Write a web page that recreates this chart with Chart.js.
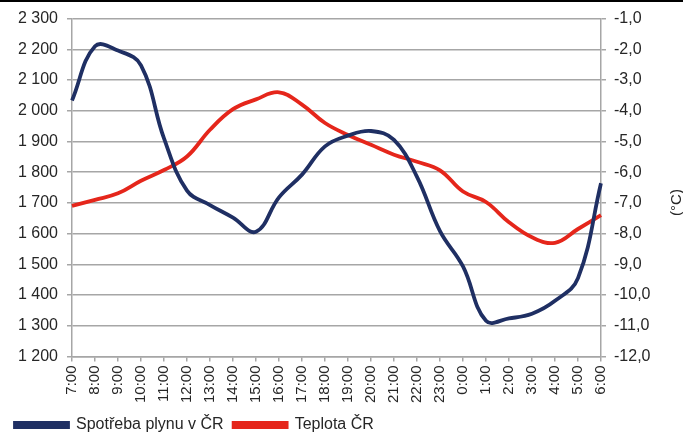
<!DOCTYPE html>
<html>
<head>
<meta charset="utf-8">
<script src="https://cdn.jsdelivr.net/npm/chart.js@4.4.1/dist/chart.umd.min.js"></script>
<style>
  html, body { margin: 0; padding: 0; background: #fff; }
  #wrap { position: relative; width: 683px; height: 438px; }
  #topbar { position: absolute; left: 0; top: 0; width: 683px; height: 2px; background: #000; z-index: 2; }
  canvas { display: block; }
</style>
</head>
<body>
<div id="wrap">
  <div id="topbar"></div>
  <canvas id="c" width="683" height="438"></canvas>
</div>
<script>
const categories = ['7:00','8:00','9:00','10:00','11:00','12:00','13:00','14:00','15:00','16:00','17:00','18:00','19:00','20:00','21:00','22:00','23:00','0:00','1:00','2:00','3:00','4:00','5:00','6:00'];
const gasConsumption = [2033, 2210, 2196, 2148, 1910, 1740, 1693, 1652, 1606, 1718, 1792, 1884, 1919, 1934, 1905, 1785, 1608, 1493, 1316, 1324, 1339, 1381, 1455, 1764];
const temperature = [-7.10, -6.90, -6.69, -6.28, -5.93, -5.49, -4.62, -3.95, -3.63, -3.40, -3.80, -4.40, -4.79, -5.11, -5.43, -5.66, -5.94, -6.63, -6.97, -7.63, -8.12, -8.30, -7.85, -7.40];
const seriesNames = ['Spotřeba plynu v ČR', 'Teplota ČR'];
const rightAxisTitle = '(°C)';

const FONT = "'Liberation Sans', Arial, sans-serif";
const TEXT = '#262626';
const GRID = '#a6a6a6';

const rightTitlePlugin = {
  id: 'rightTitle',
  afterDraw(chart) {
    const ctx = chart.ctx;
    ctx.save();
    ctx.fillStyle = TEXT;
    ctx.font = '15px ' + FONT;
    ctx.textAlign = 'center';
    ctx.textBaseline = 'middle';
    ctx.translate(677, (chart.chartArea.top + chart.chartArea.bottom) / 2 + 15);
    ctx.rotate(-Math.PI / 2);
    ctx.fillText(rightAxisTitle, 0, 0);
    ctx.restore();
  }
};

new Chart(document.getElementById('c'), {
  type: 'line',
  data: {
    labels: categories,
    datasets: [
      { label: seriesNames[0], data: gasConsumption, yAxisID: 'y', borderColor: '#1f2f63', backgroundColor: '#1f2f63', borderWidth: 3.8, pointRadius: 0, tension: 0.4 },
      { label: seriesNames[1], data: temperature, yAxisID: 'y1', borderColor: '#e5261b', backgroundColor: '#e5261b', borderWidth: 3.8, pointRadius: 0, tension: 0.4 }
    ]
  },
  options: {
    responsive: false,
    animation: false,
    layout: { padding: { left: 5, right: 27, top: 16, bottom: -5 } },
    plugins: {
      tooltip: { enabled: false },
      legend: {
        position: 'bottom',
        align: 'start',
        labels: {
          boxWidth: 53, boxHeight: 4, padding: 10,
          color: TEXT,
          font: { family: FONT, size: 16 }
        }
      }
    },
    scales: {
      x: {
        offset: false,
        grid: { display: true, drawOnChartArea: false, drawTicks: true, tickLength: 5, color: GRID, lineWidth: 1.5 },
        border: { color: GRID, width: 1.5 },
        ticks: { color: TEXT, font: { family: FONT, size: 15 }, minRotation: 90, maxRotation: 90, autoSkip: false, padding: 4 }
      },
      y: {
        position: 'left',
        min: 1200, max: 2300,
        afterFit: s => { s.width = 67; },
        grid: { color: GRID, lineWidth: 1.5, tickLength: 5 },
        border: { color: GRID, width: 1.5 },
        ticks: {
          stepSize: 100, color: TEXT, padding: 9,
          font: { family: FONT, size: 16 },
          callback: v => String(v).replace(/\B(?=(\d{3})+(?!\d))/g, ' ')
        }
      },
      y1: {
        position: 'right',
        min: -12, max: -1,
        afterFit: s => { s.width = 55; },
        grid: { drawOnChartArea: false, color: GRID, lineWidth: 1.5, tickLength: 5 },
        border: { color: GRID, width: 1.5 },
        ticks: {
          stepSize: 1, color: TEXT, padding: 8,
          font: { family: FONT, size: 16 },
          callback: v => v.toFixed(1).replace('.', ',')
        }
      }
    }
  },
  plugins: [rightTitlePlugin]
});
</script>
</body>
</html>
